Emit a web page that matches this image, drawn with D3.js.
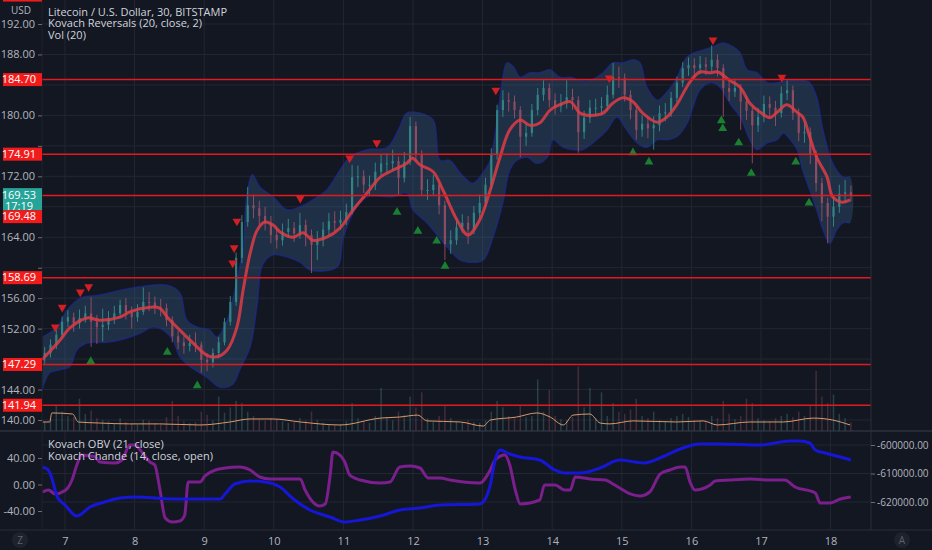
<!DOCTYPE html>
<html>
<head>
<meta charset="utf-8">
<script src="https://cdn.jsdelivr.net/npm/d3@7"></script>
<style>
  html, body { margin: 0; padding: 0; background: #131722; overflow: hidden; }
  svg { display: block; font-family: "Open Sans", sans-serif; }
</style>
</head>
<body>
<div id="chart"></div>
<script>
// ---- data ----
var candleStart = 6.6667;      // first 2h candle (day number)
var candleStep = 1 / 12;       // 2 hours

var closes = [148.8,149.9,151.2,152.9,153.5,152.7,153.4,154.0,152.9,152.2,
  152.5,153.4,154.0,155.1,154.2,153.5,154.2,155.5,155.4,154.8,
  154.7,153.1,151.0,150.2,149.7,150.1,149.9,147.9,147.6,148.8,
  150.2,152.9,155.5,161.3,166.0,168.2,167.8,166.8,165.9,164.3,
  163.6,164.7,165.2,164.5,165.6,164.3,163.0,163.6,165.0,166.1,
  165.9,166.3,167.3,171.9,172.0,170.9,170.9,172.6,173.7,173.7,
  174.0,171.8,173.9,178.6,174.8,170.2,170.2,170.9,168.2,163.1,
  163.6,165.3,165.9,165.0,167.2,168.5,170.9,174.8,180.7,182.0,
  181.8,180.7,177.2,177.7,180.7,182.7,183.6,182.0,181.2,181.6,
  182.4,182.0,177.8,179.7,181.0,181.0,181.2,182.7,185.0,184.9,
  182.7,180.7,178.1,178.9,178.3,178.7,180.3,180.4,182.3,184.3,
  186.2,186.6,186.2,186.7,186.4,187.3,186.2,183.6,183.1,183.6,
  181.8,180.6,178.7,179.8,181.5,181.0,180.3,182.9,183.3,180.3,
  177.7,177.8,174.8,171.1,168.5,166.7,168.0,169.7,169.9,169.53];

var highs = [149.6,150.6,152.0,153.6,154.4,154.1,154.5,155.0,156.1,153.8,
  154.6,154.3,155.0,155.8,156.0,154.9,155.2,157.4,156.8,156.2,
  155.9,155.3,153.6,151.7,151.0,151.2,151.5,150.3,148.8,149.4,
  150.9,153.4,156.3,162.0,166.9,170.6,169.6,168.8,168.0,166.8,
  165.2,165.8,166.4,166.0,167.2,166.3,165.0,164.8,166.0,167.2,
  167.4,167.5,168.4,173.5,173.4,172.8,172.1,173.8,174.9,175.0,
  175.5,174.6,175.2,179.8,179.2,175.4,171.6,172.2,171.4,168.8,
  164.9,166.4,167.0,166.8,168.1,169.6,171.8,175.7,181.4,183.3,
  183.0,182.6,181.2,179.0,181.5,183.6,184.6,184.2,182.9,182.8,
  184.6,183.5,182.5,180.6,182.0,182.2,182.4,183.9,186.9,186.4,
  185.5,183.3,181.2,180.0,179.8,179.9,181.3,181.6,183.1,185.1,
  187.0,187.6,187.5,187.8,187.6,189.2,188.0,186.7,184.6,184.8,
  184.1,182.6,181.2,181.0,182.6,182.5,181.9,183.8,184.6,183.9,
  180.9,179.2,178.4,175.4,171.8,169.2,169.4,170.9,171.5,170.8];

var lows = [147.4,148.2,149.3,150.8,152.2,151.6,152.0,152.8,149.6,150.0,
  150.3,151.8,152.6,153.4,153.2,152.0,152.9,153.8,154.3,153.9,
  153.6,152.3,150.2,149.3,148.7,149.0,148.9,146.2,146.4,146.9,
  148.1,149.8,152.4,155.0,160.6,165.4,166.5,165.6,164.9,163.2,
  162.5,162.9,163.9,163.4,163.8,162.8,159.3,161.0,162.8,164.2,
  164.8,165.0,165.6,167.0,170.6,169.8,169.5,170.2,171.9,172.5,
  172.8,169.6,171.2,173.5,173.9,169.4,168.9,169.5,167.0,161.0,
  161.8,163.0,164.6,163.1,164.4,166.5,167.8,170.3,174.2,179.8,
  180.5,179.6,174.5,176.0,177.2,180.0,181.9,181.0,180.1,180.4,
  180.9,180.7,175.1,176.9,179.0,179.9,180.0,180.6,182.2,183.6,
  181.8,179.5,176.8,177.2,177.0,175.5,177.9,179.2,179.8,181.7,
  183.7,185.2,185.0,185.4,185.3,185.8,185.1,179.8,181.9,182.4,
  178.1,179.4,173.7,177.8,179.1,179.8,178.6,179.7,182.0,179.4,
  176.6,176.4,173.6,170.0,166.1,163.2,165.4,167.2,168.6,168.7];

var volumes = [420,560,1200,900,700,650,1500,800,950,600,
  520,450,380,600,420,350,300,520,480,350,
  300,650,1400,700,450,380,420,900,750,500,
  1600,850,1100,1400,1300,900,700,550,480,600,
  520,450,380,420,600,500,900,520,380,300,
  260,320,450,1300,600,480,380,700,2000,650,
  500,900,750,1600,1100,1800,600,420,700,1200,
  600,450,380,500,420,380,500,900,1400,1100,
  700,600,1200,650,700,2400,900,1900,700,550,
  500,650,3000,1100,2000,600,1800,700,1300,900,
  800,1000,1500,700,600,900,500,450,600,700,
  800,650,500,450,420,700,600,1400,800,550,
  700,1500,1300,600,500,450,600,700,800,650,
  900,700,1200,2800,1600,1300,1700,800,600,400];

var volMaDays = [6.68,6.78,6.81,7.11,7.19,7.50,7.93,8.36,8.94,9.37,9.66,9.99,10.38,10.95,11.53,11.81,12.07,12.20,12.68,13.01,13.11,13.49,13.78,13.97,14.16,14.30,14.54,14.69,14.83,15.16,15.79,16.17,16.37,16.84,17.32,17.75,18.03,18.28];
var volMaValues = [420,420,840,790,420,370,330,330,280,420,560,560,420,280,600,650,740,470,420,230,510,650,840,650,280,740,790,370,330,470,420,470,280,420,420,600,510,280];

// Kovach Reversals: centre line and band
var maDays = [6.67,6.93,7.07,7.32,7.50,7.79,7.93,8.22,8.36,8.47,8.65,8.84,9.04,9.18,9.33,9.47,9.56,9.66,9.76,9.87,9.99,10.09,10.28,10.42,10.56,10.76,10.95,11.14,11.34,11.53,11.71,11.91,11.99,12.10,12.29,12.43,12.63,12.79,12.96,13.11,13.25,13.39,13.54,13.68,13.82,13.97,14.11,14.26,14.40,14.54,14.73,14.87,15.02,15.16,15.30,15.51,15.65,15.79,15.98,16.12,16.27,16.38,16.55,16.70,16.84,16.99,17.13,17.23,17.37,17.52,17.60,17.70,17.80,17.95,18.03,18.17,18.28];
var maValues = [147.9,150.5,152.1,153.4,153.1,153.5,154.2,154.8,154.7,153.5,151.8,150.1,148.5,148.3,149.2,152.2,157.1,161.9,164.9,166.0,165.6,164.7,164.0,164.6,163.6,164.0,165.2,167.6,169.8,171.9,172.8,173.7,174.4,173.5,172.6,170.2,166.3,164.3,166.3,170.2,174.5,178.1,179.4,178.7,179.0,180.7,181.4,181.8,180.3,180.0,180.3,181.6,182.3,181.8,180.3,179.1,179.8,181.4,184.4,185.7,185.6,185.7,184.6,183.7,181.6,180.4,179.7,180.4,181.4,180.4,179.8,177.2,174.5,171.9,169.3,168.6,168.9];

var upperDays = [6.68,6.89,7.03,7.22,7.50,7.83,8.08,8.47,8.65,8.75,8.90,9.08,9.18,9.33,9.47,9.56,9.61,9.69,9.80,9.99,10.19,10.38,10.56,10.76,10.95,11.09,11.34,11.63,11.81,11.91,12.10,12.29,12.39,12.53,12.68,12.86,13.06,13.11,13.21,13.29,13.35,13.44,13.54,13.68,13.82,13.97,14.11,14.26,14.40,14.54,14.73,14.87,15.02,15.16,15.26,15.36,15.51,15.65,15.79,15.94,16.17,16.31,16.45,16.60,16.70,16.80,16.94,17.09,17.23,17.42,17.60,17.70,17.80,17.89,18.03,18.18,18.28];
var upperValues = [150.9,152.2,154.4,156.0,156.4,157.1,157.5,157.7,156.7,153.1,152.2,151.8,150.9,153.1,158.4,162.7,169.3,172.2,170.6,169.3,167.6,168.0,168.9,170.2,172.8,174.5,175.5,175.8,178.5,180.3,180.3,179.4,174.1,174.1,172.4,171.1,173.2,174.1,179.4,184.9,186.9,186.4,185.0,185.6,185.6,186.0,185.0,185.0,184.6,184.6,185.6,186.9,186.9,187.3,186.9,183.7,182.0,183.1,184.9,187.7,188.6,189.0,189.5,189.0,188.2,186.0,185.6,184.3,184.3,184.6,184.6,184.3,182.4,178.1,173.7,171.9,171.9];

var lowerDays = [6.67,6.78,6.93,7.07,7.17,7.32,7.60,7.79,8.08,8.26,8.41,8.55,8.65,8.80,9.04,9.23,9.41,9.51,9.66,9.76,9.84,9.99,10.19,10.38,10.52,10.91,10.99,11.14,11.34,11.71,11.91,12.00,12.20,12.49,12.68,12.86,13.01,13.15,13.29,13.39,13.49,13.64,13.78,13.93,14.01,14.16,14.30,14.44,14.64,14.79,14.93,15.07,15.22,15.36,15.51,15.65,15.79,15.94,16.12,16.27,16.41,16.55,16.70,16.84,16.94,17.09,17.23,17.32,17.42,17.52,17.60,17.70,17.80,17.89,17.99,18.09,18.18,18.28];
var lowerValues = [143.9,146.2,146.6,147.0,149.2,150.1,150.2,150.5,151.4,152.2,151.8,150.5,148.3,147.0,145.6,144.3,144.7,146.6,149.6,155.1,160.4,161.7,161.4,160.7,159.7,160.1,163.6,167.2,169.3,169.3,169.8,167.6,165.9,162.7,161.0,160.7,161.0,164.0,168.5,172.8,174.1,174.5,173.7,174.5,176.8,175.8,175.5,175.5,176.8,178.1,179.8,178.1,176.4,175.8,176.8,176.8,177.2,179.0,183.3,184.3,183.7,181.6,179.8,176.8,175.5,176.4,176.8,177.7,176.8,175.5,172.8,170.2,167.6,165.0,163.2,165.0,165.9,165.9];

// reversal markers
var sellDays = [6.86,6.96,7.22,7.34,9.41,9.43,9.47,10.38,11.09,11.48,13.19,14.82,16.31,17.30];
var sellPrices = [152.2,154.8,156.8,157.5,160.6,162.6,166.1,169.1,174.4,176.4,183.3,184.9,189.9,185.0];
var buyDays = [7.37,8.47,8.90,11.77,12.07,12.34,12.46,15.16,15.39,16.43,16.45,16.68,16.86,17.50,17.69];
var buyPrices = [147.7,148.9,144.5,167.3,164.8,163.5,160.2,175.1,173.9,179.3,178.3,176.4,172.4,173.9,168.5];

// horizontal levels drawn on the chart
var levels = [195.8, 184.70, 174.91, 169.48, 158.69, 147.29, 141.94];
var lastPrice = 169.53;
var lastTime = "17:19";

// lower pane
var obvDays = [6.68,6.76,6.81,6.89,7.00,7.17,7.36,7.57,7.79,8.01,8.58,9.23,9.30,9.44,9.66,9.87,10.09,10.28,10.52,10.81,11.02,11.24,11.53,11.81,12.10,12.39,12.96,13.03,13.11,13.18,13.25,13.39,13.54,13.82,14.04,14.18,14.40,14.69,14.97,15.19,15.33,15.55,15.84,16.12,16.41,16.99,17.42,17.56,17.70,17.78,17.92,18.14,18.29];
var obvValues = [-607720,-608770,-611580,-618250,-621050,-624910,-621760,-620000,-618600,-618250,-618950,-618950,-617190,-613690,-612630,-612980,-614740,-618950,-622810,-625260,-627020,-626320,-624910,-622810,-622110,-621050,-620700,-619300,-614040,-605260,-601750,-603160,-604210,-605260,-608770,-609830,-609830,-608070,-605260,-605970,-606320,-604560,-601400,-599650,-599650,-600000,-598600,-598600,-599300,-601750,-602810,-604210,-605260];

var chandeDays = [6.68,6.76,6.86,6.93,7.04,7.10,7.17,7.24,7.43,7.50,7.72,7.82,7.93,8.01,8.08,8.22,8.29,8.36,8.44,8.54,8.65,8.72,8.77,8.94,9.01,9.16,9.30,9.51,9.66,9.80,9.95,10.38,10.45,10.66,10.74,10.81,10.85,10.95,11.02,11.09,11.24,11.53,11.67,11.81,11.96,12.10,12.22,12.39,12.53,12.96,13.11,13.18,13.32,13.39,13.47,13.54,13.82,13.89,14.04,14.18,14.26,14.33,14.54,14.76,14.90,14.97,15.12,15.26,15.40,15.55,15.69,15.84,15.91,15.98,16.05,16.27,16.34,16.55,16.84,17.13,17.34,17.49,17.78,17.85,17.99,18.14,18.29];
var chandeValues = [-11.3,-8.3,-14.3,-12.8,-5.3,6.8,29.4,44.5,42.0,34.0,32.5,37.0,59.6,59.6,52.1,34.0,29.4,-5.3,-50.6,-56.6,-55.1,-46.0,3.8,3.8,12.8,21.9,24.9,26.4,21.9,11.3,8.3,8.3,-8.3,-32.5,-29.4,14.3,49.1,44.5,34.0,14.3,6.8,2.3,3.8,26.4,27.9,24.9,9.8,9.8,6.8,2.3,21.9,37.0,44.5,29.4,-8.3,-29.4,-23.4,-0.8,-0.8,-8.3,-8.3,11.3,8.3,6.8,-0.8,-5.3,-14.3,-17.4,-11.3,15.8,21.9,26.4,26.4,3.8,-8.3,-0.8,5.3,6.8,8.3,6.8,6.8,-3.8,-12.8,-27.9,-27.9,-21.9,-18.9];

// axis ticks
var dayTicks = d3.range(7, 19);
var priceTicks = d3.range(140, 193, 4);
var chandeTicks = [-40, 0, 40];
var obvTicks = [-620000, -610000, -600000];

// ---- layout ----
var width = 932, height = 550;
var plotLeft = 42, plotRight = 871, mainBottom = 431, lowerBottom = 530;
var bg = "#131722", gridColor = "#232733", textColor = "#b2b5be";

var svg = d3.select("#chart")
  .append("svg")
    .attr("width", width)
    .attr("height", height);

svg.append("rect").attr("width", width).attr("height", height).attr("fill", bg);

var x = d3.scaleLinear().domain([7, 18]).range([65, 830.6]);
var y = d3.scaleLinear().domain([140, 192]).range([420, 24]);
var yVol = d3.scaleLinear().domain([0, 4000]).range([mainBottom, 345]);
var yChande = d3.scaleLinear().domain([-40, 40]).range([511, 458]);
var yObv = d3.scaleLinear().domain([-620000, -600000]).range([502, 445]);

var defs = svg.append("defs");
defs.append("clipPath").attr("id", "clipMain").append("rect")
  .attr("x", plotLeft).attr("y", 0).attr("width", plotRight - plotLeft).attr("height", mainBottom);
defs.append("clipPath").attr("id", "clipLower").append("rect")
  .attr("x", plotLeft).attr("y", mainBottom).attr("width", plotRight - plotLeft).attr("height", lowerBottom - mainBottom);

// ---- grid ----
var grid = svg.append("g");
grid.selectAll(".vgrid").data(dayTicks).enter().append("line")
  .attr("x1", d => x(d)).attr("x2", d => x(d))
  .attr("y1", 0).attr("y2", lowerBottom)
  .attr("stroke", gridColor);
grid.selectAll(".hgrid").data(priceTicks).enter().append("line")
  .attr("x1", plotLeft).attr("x2", plotRight)
  .attr("y1", d => y(d)).attr("y2", d => y(d))
  .attr("stroke", gridColor);
grid.selectAll(".ogrid").data(obvTicks).enter().append("line")
  .attr("x1", plotLeft).attr("x2", plotRight)
  .attr("y1", d => yObv(d)).attr("y2", d => yObv(d))
  .attr("stroke", gridColor);

// ---- build candle records ----
var candles = closes.map(function (c, i) {
  var o = i === 0 ? 148.3 : closes[i - 1];
  return { t: candleStart + i * candleStep + candleStep / 2, o: o, h: highs[i], l: lows[i], c: c, v: volumes[i] };
});
function zip(days, vals) { return days.map((d, i) => [d, vals[i]]); }

var main = svg.append("g").attr("clip-path", "url(#clipMain)");

// volume
main.append("g").selectAll("rect").data(candles).enter().append("rect")
  .attr("x", d => x(d.t) - 0.75)
  .attr("width", 1.5)
  .attr("y", d => yVol(d.v))
  .attr("height", d => mainBottom - yVol(d.v))
  .attr("fill", d => d.c >= d.o ? "#4f8f8a" : "#9a5560")
  .attr("opacity", 0.35);

main.append("path")
  .datum(zip(volMaDays, volMaValues))
  .attr("fill", "none")
  .attr("stroke", "#d99a6c")
  .attr("stroke-width", 1)
  .attr("d", d3.line().x(d => x(d[0])).y(d => yVol(d[1])).curve(d3.curveMonotoneX));

// band
var upperPts = zip(upperDays, upperValues);
var lowerPts = zip(lowerDays, lowerValues);
var bandLine = d3.line().x(d => x(d[0])).y(d => y(d[1])).curve(d3.curveCatmullRom);
main.append("path")
  .attr("d", bandLine(upperPts.concat(lowerPts.slice().reverse())) + "Z")
  .attr("fill", "#3d6a9a")
  .attr("fill-opacity", 0.3)
  .attr("stroke", "none");
[upperPts, lowerPts].forEach(function (pts) {
  main.append("path")
    .datum(pts)
    .attr("fill", "none")
    .attr("stroke", "#1d2a95")
    .attr("stroke-opacity", 0.65)
    .attr("stroke-width", 1.5)
    .attr("d", bandLine);
});

// candles
var cg = main.append("g").selectAll("g").data(candles).enter().append("g")
  .attr("opacity", 0.75);
cg.append("line")
  .attr("x1", d => x(d.t)).attr("x2", d => x(d.t))
  .attr("y1", d => y(d.h)).attr("y2", d => y(d.l))
  .attr("stroke", d => d.c >= d.o ? "#3a9f97" : "#b4566a")
  .attr("stroke-width", 1);
cg.append("rect")
  .attr("x", d => x(d.t) - 1.1)
  .attr("width", 2.2)
  .attr("y", d => y(Math.max(d.o, d.c)))
  .attr("height", d => Math.max(1, Math.abs(y(d.o) - y(d.c))))
  .attr("fill", d => d.c >= d.o ? "#3a9f97" : "#b4566a");

// centre line
main.append("path")
  .datum(zip(maDays, maValues))
  .attr("fill", "none")
  .attr("stroke", "#e03c45")
  .attr("stroke-opacity", 0.85)
  .attr("stroke-width", 3)
  .attr("d", d3.line().x(d => x(d[0])).y(d => y(d[1])).curve(d3.curveCatmullRom));

// reversal triangles
var tri = d3.symbol().type(d3.symbolTriangle).size(34);
main.selectAll(".sell").data(zip(sellDays, sellPrices)).enter().append("path")
  .attr("d", tri)
  .attr("transform", d => "translate(" + x(d[0]) + "," + y(d[1]) + ") rotate(180)")
  .attr("fill", "#d01f25");
main.selectAll(".buy").data(zip(buyDays, buyPrices)).enter().append("path")
  .attr("d", tri)
  .attr("transform", d => "translate(" + x(d[0]) + "," + y(d[1]) + ")")
  .attr("fill", "#1a7f2e");

// levels
main.selectAll(".level").data(levels).enter().append("line")
  .attr("x1", plotLeft).attr("x2", plotRight)
  .attr("y1", d => y(d)).attr("y2", d => y(d))
  .attr("stroke", "#e3191f")
  .attr("stroke-width", 1.5);

// ---- lower pane ----
var lower = svg.append("g").attr("clip-path", "url(#clipLower)");
lower.append("path")
  .datum(zip(chandeDays, chandeValues))
  .attr("fill", "none")
  .attr("stroke", "#7a1f8c")
  .attr("stroke-width", 3)
  .attr("d", d3.line().x(d => x(d[0])).y(d => yChande(d[1])).curve(d3.curveMonotoneX));
lower.append("path")
  .datum(zip(obvDays, obvValues))
  .attr("fill", "none")
  .attr("stroke", "#1616d6")
  .attr("stroke-width", 3)
  .attr("d", d3.line().x(d => x(d[0])).y(d => yObv(d[1])).curve(d3.curveMonotoneX));

// pane borders
svg.append("line").attr("x1", 0).attr("x2", width).attr("y1", mainBottom).attr("y2", mainBottom)
  .attr("stroke", "#3a3e4a").attr("stroke-width", 1.2);
svg.append("line").attr("x1", 0).attr("x2", width).attr("y1", lowerBottom).attr("y2", lowerBottom)
  .attr("stroke", "#2a2e39");
svg.append("line").attr("x1", plotRight).attr("x2", plotRight).attr("y1", 0).attr("y2", lowerBottom)
  .attr("stroke", "#2a2e39");
svg.append("line").attr("x1", plotLeft).attr("x2", plotLeft).attr("y1", 0).attr("y2", lowerBottom)
  .attr("stroke", "#1e222d");

// ---- price labels layout (computed first so hidden tick labels can be skipped) ----
var labelH = 13;
var lastY = y(lastPrice);
var lastBox = { top: lastY - 7, bottom: lastY + 15 };
var labels = levels.map(d => ({ v: d, yc: y(d) })).sort((a, b) => a.yc - b.yc);
labels.forEach(function (l) {
  var top = l.yc - labelH / 2;
  if (top < lastBox.bottom && top + labelH > lastBox.top) top = lastBox.bottom;
  l.top = top;
});
var boxes = labels.map(l => [l.top, l.top + labelH]).concat([[lastBox.top, lastBox.bottom]]);
function covered(py) {
  return boxes.some(b => py + 6 > b[0] && py - 6 < b[1]);
}

// ---- axes ----
function styleAxis(g, size) {
  g.select(".domain").remove();
  g.selectAll(".tick line").attr("stroke", "#6a6d78");
  g.selectAll(".tick text").attr("fill", textColor).style("font-size", size || "11px")
    .style("font-family", "'Open Sans', sans-serif");
}
svg.append("g")
  .attr("transform", "translate(" + plotLeft + ",0)")
  .call(d3.axisLeft(y).tickValues(priceTicks).tickSize(4).tickPadding(3)
    .tickFormat(d => covered(y(d)) ? "" : d.toFixed(2)))
  .call(styleAxis);
svg.append("g")
  .attr("transform", "translate(" + plotLeft + ",0)")
  .call(d3.axisLeft(yChande).tickValues(chandeTicks).tickSize(4).tickPadding(3).tickFormat(d => d.toFixed(2)))
  .call(styleAxis);
svg.append("g")
  .attr("transform", "translate(" + plotRight + ",0)")
  .call(d3.axisRight(yObv).tickValues(obvTicks).tickSize(4).tickPadding(2).tickFormat(d => d.toFixed(2)))
  .call(g => styleAxis(g, "10px"));
svg.append("g")
  .attr("transform", "translate(0," + (lowerBottom + 4) + ")")
  .call(d3.axisBottom(x).tickValues(dayTicks).tickSize(0).tickPadding(3).tickFormat(d3.format("d")))
  .call(styleAxis);

// price label boxes on the left axis
var lg = svg.append("g");
lg.selectAll("rect").data(labels).enter().append("rect")
  .attr("x", 3).attr("width", plotLeft - 3)
  .attr("y", d => d.top).attr("height", labelH)
  .attr("fill", "#f21b1b");
lg.selectAll("text").data(labels.filter(d => d.top > 0)).enter().append("text")
  .attr("x", 36).attr("y", d => d.top + 10)
  .attr("text-anchor", "end")
  .attr("fill", "#ffffff")
  .style("font-size", "11px")
  .text(d => d.v.toFixed(2));

svg.append("rect")
  .attr("x", 3).attr("width", plotLeft - 3)
  .attr("y", lastBox.top).attr("height", lastBox.bottom - lastBox.top)
  .attr("fill", "#27a49a");
svg.append("text").attr("x", 36).attr("y", lastY + 4).attr("text-anchor", "end")
  .attr("fill", "#ffffff").style("font-size", "11px").text(lastPrice.toFixed(2));
svg.append("text").attr("x", 33).attr("y", lastY + 14.5).attr("text-anchor", "end")
  .attr("fill", "#ffffff").style("font-size", "11px").text(lastTime);

// ---- legends ----
svg.append("text").attr("x", 21).attr("y", 14).attr("text-anchor", "middle")
  .attr("fill", textColor).style("font-size", "10px").text("USD");

var legendTop = ["Litecoin / U.S. Dollar, 30, BITSTAMP", "Kovach Reversals (20, close, 2)", "Vol (20)"];
svg.append("g").selectAll("text").data(legendTop).enter().append("text")
  .attr("x", 48).attr("y", (d, i) => 15.5 + i * 11.5)
  .attr("fill", "#d1d4dc").style("font-size", "11px")
  .text(d => d);

var legendLower = ["Kovach OBV (21, close)", "Kovach Chande (14, close, open)"];
svg.append("g").selectAll("text").data(legendLower).enter().append("text")
  .attr("x", 48).attr("y", (d, i) => 448 + i * 11.5)
  .attr("fill", "#d1d4dc").style("font-size", "11px")
  .text(d => d);

// corner buttons
[["Z", 20], ["A", 902]].forEach(function (b) {
  svg.append("circle").attr("cx", b[1]).attr("cy", 540).attr("r", 8).attr("fill", "#1e222d");
  svg.append("text").attr("x", b[1]).attr("y", 544).attr("text-anchor", "middle")
    .attr("fill", "#5d606b").style("font-size", "10px").text(b[0]);
});
</script>
</body>
</html>
